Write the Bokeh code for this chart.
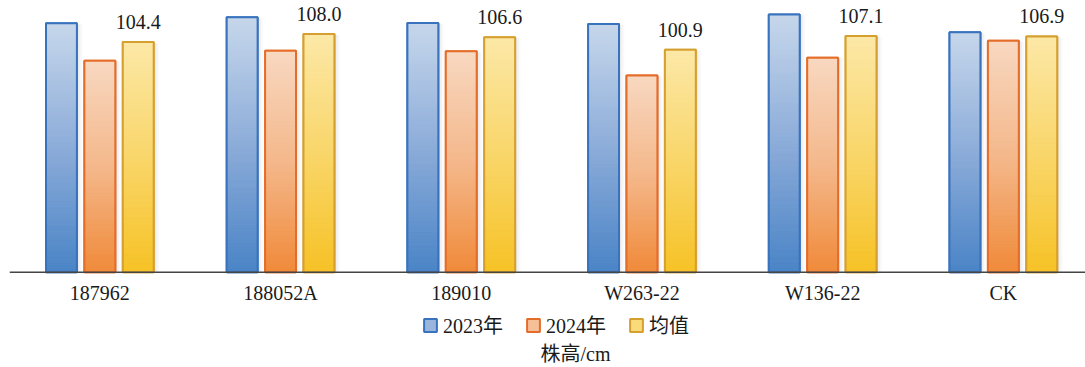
from bokeh.plotting import figure
from bokeh.models import (ColumnDataSource, Range1d, Legend, LegendItem, Span)
from bokeh.core.properties import value
from bokeh.embed import file_html
from bokeh.resources import INLINE

# Plant height (cm) per line over two seasons, plus the two-year mean
varieties = ["187962", "188052A", "189010", "W263-22", "W136-22", "CK"]
height_2023 = [112.9, 115.6, 113.0, 112.6, 116.9, 108.8]
height_2024 = [95.9, 100.4, 100.2, 89.2, 97.3, 105.0]
height_mean = [104.4, 108.0, 106.6, 100.9, 107.1, 106.9]
series_names = ["2023年", "2024年", "均值"]
axis_title = "株高/cm"

SERIF = "'Liberation Serif', 'Times New Roman', 'Noto Sans CJK SC'"

# gradient stops (bottom, middle, top) and outline colour per series
styles = [
    (("#4a84c6", "#8cacd9", "#c6d7eb"), "#3a73bd"),
    (("#f08a3a", "#f4b88b", "#f8d8c1"), "#e56d2a"),
    (("#f6c226", "#f9d66a", "#fce8a7"), "#d5a030"),
]
offsets = [-0.2125, 0.0, 0.2125]
bar_w = 0.171
N_SLICES = 80

# scales: 2.205 px per cm vertically, 180.7 px per category horizontally
PX_PER_CM = 2.205
PX_PER_CAT = 180.7
y_top = 271.7 / PX_PER_CM
y_bottom = -(367 - 271.7) / PX_PER_CM
x_start = -0.5
x_end = x_start + (1085 - 9) / PX_PER_CAT


def hex_to_rgb(h):
    h = h.lstrip("#")
    return tuple(int(h[i:i + 2], 16) for i in (0, 2, 4))


def blend(stops, t):
    lo, mid, hi = (hex_to_rgb(s) for s in stops)
    if t < 0.5:
        a, b, f = lo, mid, t / 0.5
    else:
        a, b, f = mid, hi, (t - 0.5) / 0.5
    return "#%02x%02x%02x" % tuple(round(a[k] + (b[k] - a[k]) * f) for k in range(3))


p = figure(width=1085, height=367, output_backend="svg", toolbar_location=None,
           x_range=Range1d(x_start, x_end), y_range=Range1d(y_bottom, y_top),
           min_border_left=9, min_border_right=0, min_border_top=0,
           min_border_bottom=0)
p.background_fill_color = "white"
p.border_fill_color = "white"
p.outline_line_color = None
p.xgrid.visible = False
p.ygrid.visible = False
p.xaxis.visible = False
p.yaxis.visible = False

idx = list(range(len(varieties)))
legend_items = []
for s, (vals, ((c_lo, c_mid, c_hi), edge), off) in enumerate(
        zip([height_2023, height_2024, height_mean], styles, offsets)):
    xs = [i + off for i in idx]

    # soft shadow to the right of each bar
    for dx, alpha in ((0.010, 0.07), (0.020, 0.05), (0.030, 0.03)):
        p.vbar(x=[x + dx for x in xs], top=[v - 0.4 for v in vals], width=bar_w,
               fill_color="#6b6b6b", fill_alpha=alpha, line_color=None)

    # solid base bar (also provides the legend swatch)
    base = p.vbar(x=xs, top=vals, width=bar_w, fill_color=blend((c_lo, c_mid, c_hi), 0.62),
                  line_color=edge, line_width=2)

    # vertical gradient fill built from stacked slices of each bar
    left, right, bottom, top, color = [], [], [], [], []
    for x, v in zip(xs, vals):
        for k in range(N_SLICES):
            left.append(x - bar_w / 2)
            right.append(x + bar_w / 2)
            bottom.append(v * k / N_SLICES)
            top.append(v * (k + 1) / N_SLICES)
            color.append(blend((c_lo, c_mid, c_hi), (k + 0.5) / N_SLICES))
    src = ColumnDataSource(dict(left=left, right=right, bottom=bottom, top=top,
                                color=color))
    p.quad(left="left", right="right", bottom="bottom", top="top",
           source=src, fill_color="color", line_color="color", line_width=1)

    # crisp outline on top of the gradient
    p.vbar(x=xs, top=vals, width=bar_w, fill_alpha=0, line_color=edge,
           line_width=2)
    legend_items.append(LegendItem(label=series_names[s], renderers=[base]))

# baseline of the category axis
p.add_layout(Span(location=0, dimension="width", line_color="#454545",
                  line_width=1.6))

# category labels under the baseline
cat_src = ColumnDataSource(dict(x=idx, y=[0] * len(idx), txt=varieties))
p.text(x="x", y="y", text="txt", source=cat_src, text_align="center",
       text_baseline="alphabetic", y_offset=21, text_font=value(SERIF),
       text_font_size="20px", text_color="#1a1a1a")

# value labels above the mean bars
lab_src = ColumnDataSource(dict(x=[i + offsets[2] for i in idx], y=height_mean,
                                txt=["%.1f" % v for v in height_mean]))
p.text(x="x", y="y", text="txt", source=lab_src, text_align="center",
       text_baseline="alphabetic", y_offset=-20, text_font=value(SERIF),
       text_font_size="20px", text_color="#1a1a1a")

# legend row below the category labels
legend = Legend(items=legend_items, orientation="horizontal", location=(413, 28),
                glyph_width=16, glyph_height=16, label_standoff=5, spacing=22,
                padding=0, margin=0, label_height=20,
                label_text_font=SERIF, label_text_font_size="20px",
                label_text_color="#1a1a1a", border_line_color=None,
                background_fill_alpha=0)
p.add_layout(legend)

# axis title at the bottom
title_x = x_start + (575 - 9) / PX_PER_CAT
title_y = y_bottom + 14 / PX_PER_CM
p.text(x=[title_x], y=[title_y], text=[axis_title], text_align="center",
       text_baseline="middle", text_font=value(SERIF), text_font_size="20px",
       text_color="#1a1a1a")

open("out.html", "w").write(file_html(p, INLINE))
